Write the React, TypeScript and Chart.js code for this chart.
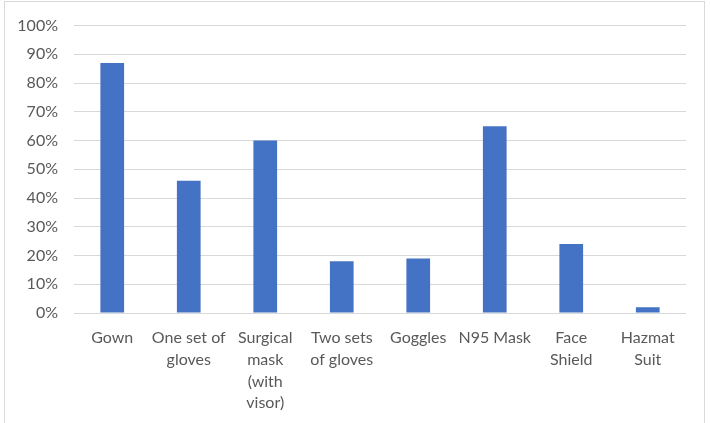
import React, { useEffect, useRef } from "react";
import { Chart, registerables } from "chart.js";

Chart.register(...registerables);

const categories: (string | string[])[] = [
  "Gown",
  ["One set of", "gloves"],
  ["Surgical", "mask", "(with", "visor)"],
  ["Two sets", "of gloves"],
  "Goggles",
  "N95 Mask",
  ["Face", "Shield"],
  ["Hazmat", "Suit"],
];
const values = [0.87, 0.46, 0.6, 0.18, 0.19, 0.65, 0.24, 0.02];

const FONT = "Lato, 'Open Sans', sans-serif";
const TEXT = "#595959";

export default function App() {
  const ref = useRef<HTMLCanvasElement | null>(null);
  useEffect(() => {
    if (!ref.current) return;
    const chart = new Chart(ref.current, {
      type: "bar",
      data: {
        labels: categories,
        datasets: [
          {
            data: values,
            backgroundColor: "#4472C4",
            borderWidth: 0,
            categoryPercentage: 1,
            barPercentage: 0.31,
          },
        ],
      },
      options: {
        responsive: false,
        animation: false,
        layout: { padding: { top: 23, right: 25, left: 0, bottom: 0 } },
        plugins: { legend: { display: false }, tooltip: { enabled: false } },
        scales: {
          x: {
            grid: { display: false, drawTicks: false },
            border: { display: false },
            ticks: {
              color: TEXT,
              font: { family: FONT, size: 16, lineHeight: 1.36 },
              padding: 14,
              maxRotation: 0,
              autoSkip: false,
            },
            afterFit: (s: any) => {
              s.height = 110;
            },
          },
          y: {
            min: 0,
            max: 1,
            grid: { color: "#d9d9d9", lineWidth: 1, drawTicks: false },
            border: { display: false },
            ticks: {
              stepSize: 0.1,
              color: TEXT,
              font: { family: FONT, size: 16 },
              padding: 16,
              callback: (v: any) => Math.round(Number(v) * 100) + "%",
            },
            afterFit: (s: any) => {
              s.width = 74;
            },
          },
        },
      },
    });
    return () => chart.destroy();
  }, []);
  return (
    <div
      style={{
        position: "absolute",
        left: 0,
        top: 0,
        width: 711,
        height: 423,
        overflow: "hidden",
        background: "#fff",
      }}
    >
      <div
        style={{
          position: "absolute",
          left: 4,
          top: 1,
          width: 701,
          height: 440,
          border: "1px solid #d9d9d9",
          boxSizing: "border-box",
        }}
      />
      <canvas
        ref={ref}
        width={711}
        height={423}
        style={{ position: "absolute", left: 0, top: 0 }}
      />
    </div>
  );
}
